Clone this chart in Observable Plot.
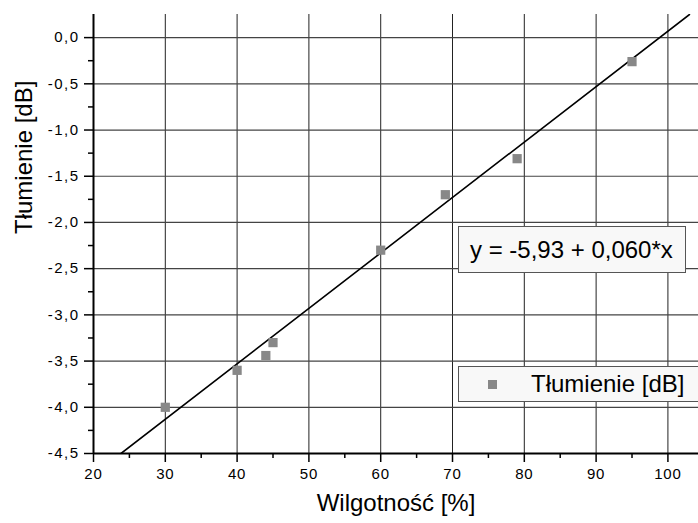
<!DOCTYPE html>
<html><head><meta charset="utf-8">
<script src="https://cdn.jsdelivr.net/npm/d3@7"></script>
<script src="https://cdn.jsdelivr.net/npm/@observablehq/plot@0.6"></script>
<style>
body{margin:0;background:#fff;font-family:"Liberation Sans",Arial,sans-serif;}
#wrap{position:relative;width:698px;height:523px;overflow:hidden;}
.box{position:absolute;background:#f8f8f8;border:1px solid #555;font-size:24px;color:#000;box-sizing:border-box;white-space:nowrap;}
.ylab text{letter-spacing:1.5px;}
.xlab text{letter-spacing:0.8px;}
</style></head><body>
<div id="wrap"></div>
<script>
const wilgotnosc = [30, 40, 44, 45, 60, 69, 79, 95];
const tlumienie = [-4.0, -3.6, -3.44, -3.3, -2.3, -1.7, -1.31, -0.26];
const intercept = -5.93, slope = 0.060;
const xMajor = [20, 30, 40, 50, 60, 70, 80, 90, 100];
const xMinor = [25, 35, 45, 55, 65, 75, 85, 95];
const yMajor = [-4.5, -4.0, -3.5, -3.0, -2.5, -2.0, -1.5, -1.0, -0.5, 0.0];
const yMinor = [-4.25, -3.75, -3.25, -2.75, -2.25, -1.75, -1.25, -0.75, -0.25];
const xDomain = [20, 104.26], yDomain = [-4.5, 0.25];

const pts = wilgotnosc.map((x, i) => ({x, y: tlumienie[i]}));
const fitX = [(yDomain[0] - intercept) / slope, (yDomain[1] - intercept) / slope];
const fit = fitX.map(x => ({x, y: intercept + slope * x}));
const fmt = d => d.toFixed(1).replace(".", ",");

const chart = Plot.plot({
  width: 698, height: 523,
  marginLeft: 93, marginRight: 0, marginTop: 14, marginBottom: 70,
  x: {domain: xDomain}, y: {domain: yDomain},
  style: {fontFamily: '"Liberation Sans", Arial, sans-serif', fontSize: "15px", color: "#000", background: "#fff"},
  marks: [
    Plot.ruleX(xMajor.slice(1), {stroke: "#222", strokeWidth: 1}),
    Plot.ruleY(yMajor.slice(1), {stroke: "#444", strokeWidth: 1.2}),
    Plot.axisX({ticks: xMajor, tickSize: 9, tickPadding: 6, tickFormat: d => String(d), label: null, strokeWidth: 1.5, fontSize: 15, className: "xlab"}),
    Plot.axisX({ticks: xMinor, tickSize: 5, text: null, label: null, strokeWidth: 1.5}),
    Plot.axisY({ticks: yMajor, tickSize: 9, tickPadding: 5, tickFormat: fmt, label: null, strokeWidth: 1.5, fontSize: 15, className: "ylab"}),
    Plot.axisY({ticks: yMinor, tickSize: 5, text: null, label: null, strokeWidth: 1.5}),
    Plot.ruleX([xDomain[0]], {stroke: "#000", strokeWidth: 2}),
    Plot.ruleY([yDomain[0]], {stroke: "#000", strokeWidth: 2}),
    Plot.line(fit, {x: "x", y: "y", stroke: "#000", strokeWidth: 1.6, clip: true}),
    Plot.dot(pts, {x: "x", y: "y", symbol: "square", r: 5.2, fill: "#888", stroke: "none"}),
    Plot.text(["Wilgotność [%]"], {frameAnchor: "bottom", dy: 57, fontSize: 24, text: d => d}),
    Plot.text(["Tłumienie [dB]"], {frameAnchor: "left", dx: -69, rotate: -90, fontSize: 24, text: d => d})
  ]
});
const wrap = document.getElementById("wrap");
wrap.appendChild(chart);
const eq = document.createElement("div");
eq.className = "box";
eq.style.cssText = "left:458px;top:226px;width:228px;height:47px;line-height:45px;padding-left:11px;";
eq.textContent = "y = -5,93 + 0,060*x";
wrap.appendChild(eq);
const lg = document.createElement("div");
lg.className = "box";
lg.style.cssText = "left:458px;top:366px;width:245px;height:36px;line-height:34px;";
lg.innerHTML = '<span style="position:absolute;left:29px;top:13px;width:9px;height:9px;background:#888"></span><span style="position:absolute;left:72px;">Tłumienie [dB]</span>';
wrap.appendChild(lg);
</script>
</body></html>
